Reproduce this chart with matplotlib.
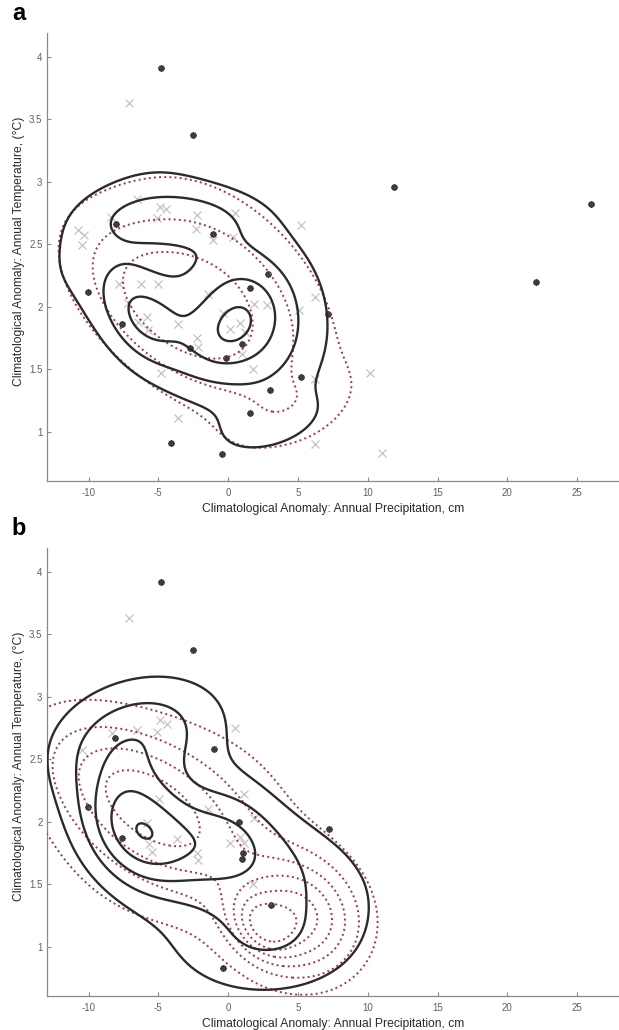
import numpy as np
import matplotlib
matplotlib.use('Agg')
import matplotlib.pyplot as plt

plt.rcParams['font.family'] = ['Liberation Sans', 'DejaVu Sans']
plt.rcParams['axes.unicode_minus'] = False

# ---- scatter points (precipitation anomaly cm, temperature anomaly C) ----
# panel a, asterisks
a_star_p = [-4.79, -2.52, 11.86, 26.02, 22.03, -8.05, -1.05, -10.06, 2.87, 1.60,
            7.15, -7.61, 0.97, -2.74, -0.14, 5.25, 2.97, 1.59, -4.12, -0.42]
a_star_t = [3.91, 3.37, 2.96, 2.82, 2.20, 2.66, 2.58, 2.12, 2.26, 2.15,
            1.94, 1.86, 1.70, 1.67, 1.59, 1.44, 1.33, 1.15, 0.91, 0.82]
# panel a, crosses
a_x_p = [-7.08, -10.73, -10.35, -10.50, -8.37, -6.50, -4.85, -4.42, -5.12, -2.22,
         -2.32, -1.12, 0.47, 0.35, 5.20, -7.81, -6.25, -5.00, -1.43, -7.20,
         -6.45, -5.80, -5.75, -3.60, -2.22, -2.17, 0.15, 0.83, 1.20, -0.35,
         1.85, 2.78, 1.02, 1.80, 5.10, 6.22, -4.82, -3.60, 6.20, 10.19, 11.04, 6.20]
a_x_t = [3.63, 2.61, 2.57, 2.49, 2.72, 2.86, 2.80, 2.78, 2.71, 2.73,
         2.62, 2.53, 2.75, 2.56, 2.65, 2.18, 2.18, 2.18, 2.10, 2.03,
         1.88, 1.92, 1.81, 1.86, 1.75, 1.68, 1.82, 1.87, 1.80, 1.95,
         2.02, 2.01, 1.62, 1.50, 1.97, 2.08, 1.47, 1.11, 1.42, 1.47, 0.83, 0.90]
# panel b, asterisks
b_star_p = [-4.79, -2.52, -8.07, -0.99, -10.03, 0.79, -7.59, 1.10, 0.99, 7.22, 3.06, -0.37]
b_star_t = [3.92, 3.37, 2.67, 2.58, 2.12, 2.00, 1.87, 1.75, 1.70, 1.94, 1.33, 0.83]
# panel b, crosses
b_x_p = [-7.08, -4.85, -4.40, -5.12, -6.50, -8.30, 0.47, -10.44, -4.97, -1.44,
         1.16, 1.82, -5.80, -5.68, -5.49, -3.65, -2.22, -2.15, 0.16, 0.87, 1.16, 1.77]
b_x_t = [3.63, 2.81, 2.78, 2.72, 2.73, 2.71, 2.75, 2.57, 2.18, 2.10,
         2.22, 2.03, 1.99, 1.82, 1.76, 1.86, 1.75, 1.69, 1.83, 1.88, 1.83, 1.50]

# ---- density fields behind the contours ----
# each row: (centre precip, centre temp, spread precip, spread temp, correlation, weight)
a_solid = [(-8.92, 2.648, 5.62, 0.600, 0.72, 0.979),
           (-6.28, 1.919, 2.46, 0.315, -0.36, 2.656),
           (-3.89, 2.715, 3.70, 0.166, 0.04, 1.694),
           (1.08, 1.927, 3.92, 0.519, -0.10, 3.268),
           (0.00, 1.799, 1.96, 0.233, 0.37, 1.079),
           (3.02, 1.054, 2.53, 0.154, 0.44, 1.137)]
a_dotted = [(-5.61, 2.023, 4.49, 0.480, -0.57, 2.179),
            (-0.18, 2.075, 5.56, 0.660, -0.46, 2.772),
            (4.00, 1.135, 3.54, 0.240, 0.57, 0.762)]
b_solid = [(-0.27, 1.899, 2.61, 0.369, 0.12, 1.333),
           (-6.42, 2.701, 4.33, 0.332, 0.23, 2.599),
           (2.79, 1.039, 5.20, 0.335, 0.04, 1.911),
           (-6.52, 1.916, 2.79, 0.347, -0.24, 3.874),
           (1.05, 1.768, 6.07, 0.340, -0.39, 1.967)]
b_dotted = [(-3.46, 1.957, 7.78, 0.737, 0.09, 1.373),
            (5.10, 1.226, 3.00, 0.327, -0.10, 4.953),
            (-5.98, 2.156, 5.02, 0.454, -0.57, 3.555),
            (2.30, 1.160, 1.50, 0.174, -0.31, 2.924)]
a_solid_levels = [1, 2, 3, 4]
a_dotted_levels = [1, 2, 3]
b_solid_levels = [1, 2, 3, 4, 5]
b_dotted_levels = [1, 2, 3, 4, 5, 6]

x_ticks = [-10, -5, 0, 5, 10, 15, 20, 25]
y_ticks = [1, 1.5, 2, 2.5, 3, 3.5, 4]
y_tick_labels = ['1', '1.5', '2', '2.5', '3', '3.5', '4']


def density(comps, X, Y):
    f = np.zeros_like(X)
    for (mx, my, sx, sy, r, w) in comps:
        a = (X - mx) / sx
        b = (Y - my) / sy
        f += w * np.exp(-0.5 * (a * a + b * b - 2 * r * a * b) / (1 - r * r))
    return f


gx, gy = np.meshgrid(np.linspace(-13, 28, 600), np.linspace(0.55, 4.25, 400))

fig = plt.figure(figsize=(6.19, 10.30), dpi=100)

panels = [
    ('a', [0.0754, 0.533, 0.9246, 0.435], a_star_p, a_star_t, a_x_p, a_x_t,
     a_solid, a_solid_levels, a_dotted, a_dotted_levels),
    ('b', [0.0754, 0.033, 0.9246, 0.435], b_star_p, b_star_t, b_x_p, b_x_t,
     b_solid, b_solid_levels, b_dotted, b_dotted_levels),
]

for (letter, rect, sp, st, xp, xt, solid, slev, dotted, dlev) in panels:
    ax = fig.add_axes(rect)
    ax.plot(xp, xt, 'x', color='#c4c4c4', ms=5.5, mew=0.9, zorder=2)
    ax.plot(sp, st, ls='none', marker=(8, 2, 0), color='#3c3c3c', ms=4.5, mew=1.3, zorder=3)

    ax.contour(gx, gy, density(dotted, gx, gy), levels=dlev, colors='#a83440',
               linestyles=':', linewidths=1.4, zorder=4)
    ax.contour(gx, gy, density(solid, gx, gy), levels=slev, colors='#2b2b2b',
               linestyles='-', linewidths=1.7, zorder=5)

    ax.set_xlim(-13, 28)
    ax.set_ylim(0.606, 4.19)
    ax.set_xticks(x_ticks)
    ax.set_xticklabels([str(t) for t in x_ticks])
    ax.set_yticks(y_ticks)
    ax.set_yticklabels(y_tick_labels)
    for s in ['top', 'right']:
        ax.spines[s].set_visible(False)
    for s in ['left', 'bottom']:
        ax.spines[s].set_color('#8a8a8a')
        ax.spines[s].set_linewidth(0.9)
    ax.tick_params(direction='in', length=3, width=0.8, color='#8a8a8a',
                   labelsize=7, labelcolor='#606060')
    ax.tick_params(axis='x', pad=5)
    ax.tick_params(axis='y', pad=3)

    ax.set_xlabel('Climatological Anomaly: Annual Precipitation, cm', fontsize=8.7, color='#2a2a2a')
    ax.set_ylabel('Climatological Anomaly: Annual Temperature, (°C)', fontsize=8.7, color='#2a2a2a')
    ax.xaxis.set_label_coords(0.5, -0.05)
    ax.yaxis.set_label_coords(-0.037, 0.513)

    fig.text(0.019, rect[1] + rect[3] + 0.0125, letter, fontsize=17, fontweight='bold',
             va='baseline', ha='left')

fig.savefig('out.png', dpi=100)
